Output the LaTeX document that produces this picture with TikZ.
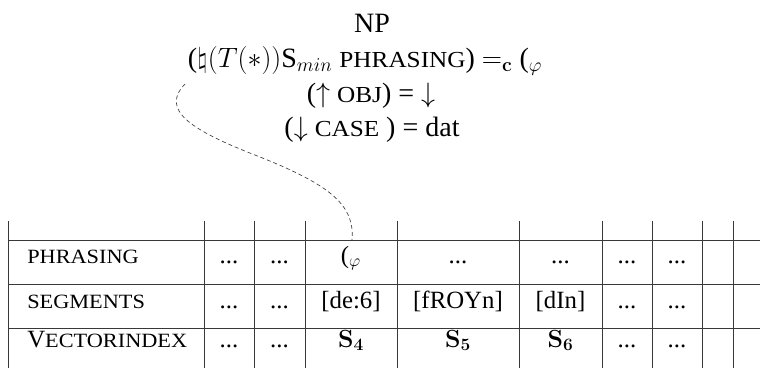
\RequirePackage{fix-cm}
\documentclass[tikz,border=0pt]{standalone}
\usepackage[no-math]{fontspec}
\setmainfont{Liberation Serif}
\usepackage{graphicx}
\newcommand{\smc}[2][15.2]{{\fontsize{#1}{#1}\selectfont\scalebox{1.1}[1]{#2}}}
\newcommand{\dd}{...}
\begin{document}
\begin{tikzpicture}[x=0.75pt,y=-0.75pt,
  every node/.style={inner sep=0pt, font=\fontsize{18.6}{22}\selectfont},
  grid/.style={line width=0.75pt, draw=black!78},
  link/.style={dash pattern=on 3pt off 2.2pt, line width=0.5pt, draw=black!75},
  cell/.style={anchor=base},
  lab/.style={anchor=base west},
  head/.style={anchor=base, font=\fontsize{21}{25}\selectfont}]
\useasboundingbox (0,0) rectangle (760,368);
% feature annotation
\node[head] (np) at (372,32) {NP};
\node[head] (eq1) at (365,67) {($\natural(T(*))$S$_{min}$ \smc[17.2]{PHRASING}) $=_{\mathbf{c}}$ ($_{\varphi}$};
\node[head] (eq2) at (371,102) {($\uparrow$ \smc[17.2]{OBJ}) = $\downarrow$};
\node[head] (eq3) at (372,136) {($\downarrow$ \smc[17.2]{CASE} ) = dat};
% table grid
\foreach \y in {240,284,328} \draw[grid] (8,\y) -- (760,\y);
\foreach \x in {8,204,254,305,397,519,602,652,702,733} \draw[grid] (\x,221) -- (\x,368);
% row labels
\node[lab] (lphr) at (27,263) {\smc{PHRASING}};
\node[lab] (lseg) at (27,308) {\smc{SEGMENTS}};
\node[lab] (lvec) at (27,347) {V\smc{ECTORINDEX}};
% cells
\foreach \x/\t [count=\i] in {229/\dd,279.5/\dd,351/{($_{\varphi}$},458/\dd,560.5/\dd,627/\dd,677/\dd}
  \node[cell] (pa\i) at (\x,263) {\t};
\foreach \x/\t [count=\i] in {229/\dd,279.5/\dd,351/{[de:6]},458/{[fROYn]},560.5/{[dIn]},627/\dd,677/\dd}
  \node[cell] (sg\i) at (\x,308) {\t};
\foreach \x/\t [count=\i] in {229/\dd,279.5/\dd,351/{$\mathbf{S_4}$},458/{$\mathbf{S_5}$},560.5/{$\mathbf{S_6}$},627/\dd,677/\dd}
  \node[cell] (vi\i) at (\x,347) {\t};
% dashed link
\coordinate (cs) at (185,84);
\coordinate (cm) at (260,157);
\coordinate (ce) at (352,240);
\draw[link] (cs) .. controls (160,110) and (190,130) .. (cm) .. controls (330,185) and (355,205) .. (ce);
\end{tikzpicture}
\end{document}
